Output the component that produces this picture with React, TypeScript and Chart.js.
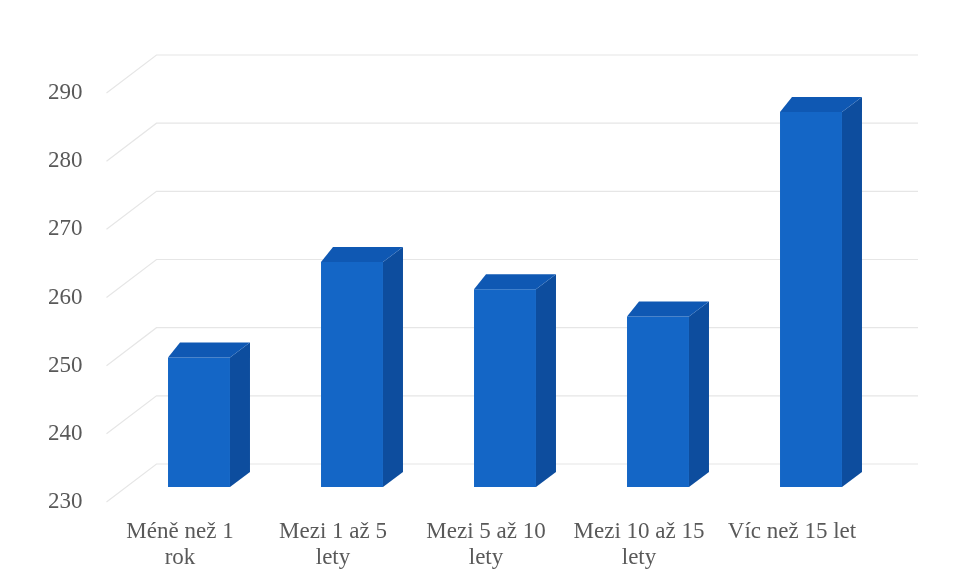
import React, { useEffect, useRef } from "react";
import { Chart, registerables } from "chart.js";

Chart.register(...registerables);

const categories: string[][] = [
  ["Méně než 1", "rok"],
  ["Mezi 1 až 5", "lety"],
  ["Mezi 5 až 10", "lety"],
  ["Mezi 10 až 15", "lety"],
  ["Víc než 15 let"],
];
const values: number[] = [249, 263, 259, 255, 285];
const yTicks: number[] = [230, 240, 250, 260, 270, 280, 290];

const FRONT = "#1466c6";
const SIDE = "#0d4d9e";
const TOP = "#0f58b3";
const GRID = "#e6e6e6";
const TEXT = "#595959";

// 3D geometry (pixels)
const WALL_DX = 50;
const WALL_DY = -38;
const WALL_RIGHT = 918;
const BAR_SHIFT_X = 19;
const BAR_SHIFT_Y = -15;
const DEPTH_DX = 20;
const DEPTH_DY = -15;

const threeD = {
  id: "threeD",
  beforeDatasetsDraw(chart: any) {
    const { ctx, chartArea, scales } = chart;
    const y = scales.y;
    ctx.save();
    ctx.strokeStyle = GRID;
    ctx.lineWidth = 1.2;
    for (const v of yTicks) {
      const py = y.getPixelForValue(v);
      const fx = chartArea.left + 3;
      ctx.beginPath();
      ctx.moveTo(fx, py);
      ctx.lineTo(fx + WALL_DX, py + WALL_DY);
      ctx.lineTo(WALL_RIGHT, py + WALL_DY);
      ctx.stroke();
    }
    ctx.restore();
    ctx.save();
    ctx.translate(BAR_SHIFT_X, BAR_SHIFT_Y);
  },
  afterDatasetsDraw(chart: any) {
    const { ctx } = chart;
    const meta = chart.getDatasetMeta(0);
    meta.data.forEach((bar: any) => {
      const { x, y, base, width } = bar.getProps(["x", "y", "base", "width"], true);
      const l = x - width / 2;
      const r = x + width / 2;
      // side
      ctx.fillStyle = SIDE;
      ctx.beginPath();
      ctx.moveTo(r, y);
      ctx.lineTo(r + DEPTH_DX, y + DEPTH_DY);
      ctx.lineTo(r + DEPTH_DX, base + DEPTH_DY);
      ctx.lineTo(r, base);
      ctx.closePath();
      ctx.fill();
      // top
      ctx.fillStyle = TOP;
      ctx.beginPath();
      ctx.moveTo(l, y);
      ctx.lineTo(l + DEPTH_DX * 0.6, y + DEPTH_DY);
      ctx.lineTo(r + DEPTH_DX, y + DEPTH_DY);
      ctx.lineTo(r, y);
      ctx.closePath();
      ctx.fill();
    });
    ctx.restore();
  },
};

export default function App() {
  const ref = useRef<HTMLCanvasElement | null>(null);
  useEffect(() => {
    document.body.style.margin = "0";
    const c = ref.current;
    if (!c) return;
    const chart = new Chart(c, {
      type: "bar",
      data: {
        labels: categories,
        datasets: [
          {
            data: values,
            base: 230,
            backgroundColor: FRONT,
            borderWidth: 0,
            categoryPercentage: 1,
            barPercentage: 0.405,
          },
        ],
      },
      options: {
        animation: false,
        responsive: false,
        maintainAspectRatio: false,
        layout: { padding: { left: 0, right: 91.5, top: 93, bottom: 0 } },
        plugins: { legend: { display: false }, tooltip: { enabled: false } },
        scales: {
          x: {
            offset: true,
            grid: { display: false, drawTicks: false },
            border: { display: false },
            ticks: {
              color: TEXT,
              font: { family: "Liberation Serif", size: 23, lineHeight: 1.17 },
              padding: 16,
              maxRotation: 0,
              autoSkip: false,
            },
            afterFit(axis: any) {
              axis.height = 81;
            },
          },
          y: {
            min: 230,
            max: 290,
            grid: { display: false, drawTicks: false },
            border: { display: false },
            ticks: {
              stepSize: 10,
              color: TEXT,
              font: { family: "Liberation Serif", size: 23 },
              padding: 21,
            },
            afterFit(axis: any) {
              axis.width = 103.5;
            },
          },
        },
      },
      plugins: [threeD],
    });
    return () => chart.destroy();
  }, []);
  return (
    <div style={{ position: "absolute", left: 0, top: 0, width: 960, height: 583, background: "#fff" }}>
      <canvas ref={ref} width={960} height={583} style={{ width: 960, height: 583 }} />
    </div>
  );
}
